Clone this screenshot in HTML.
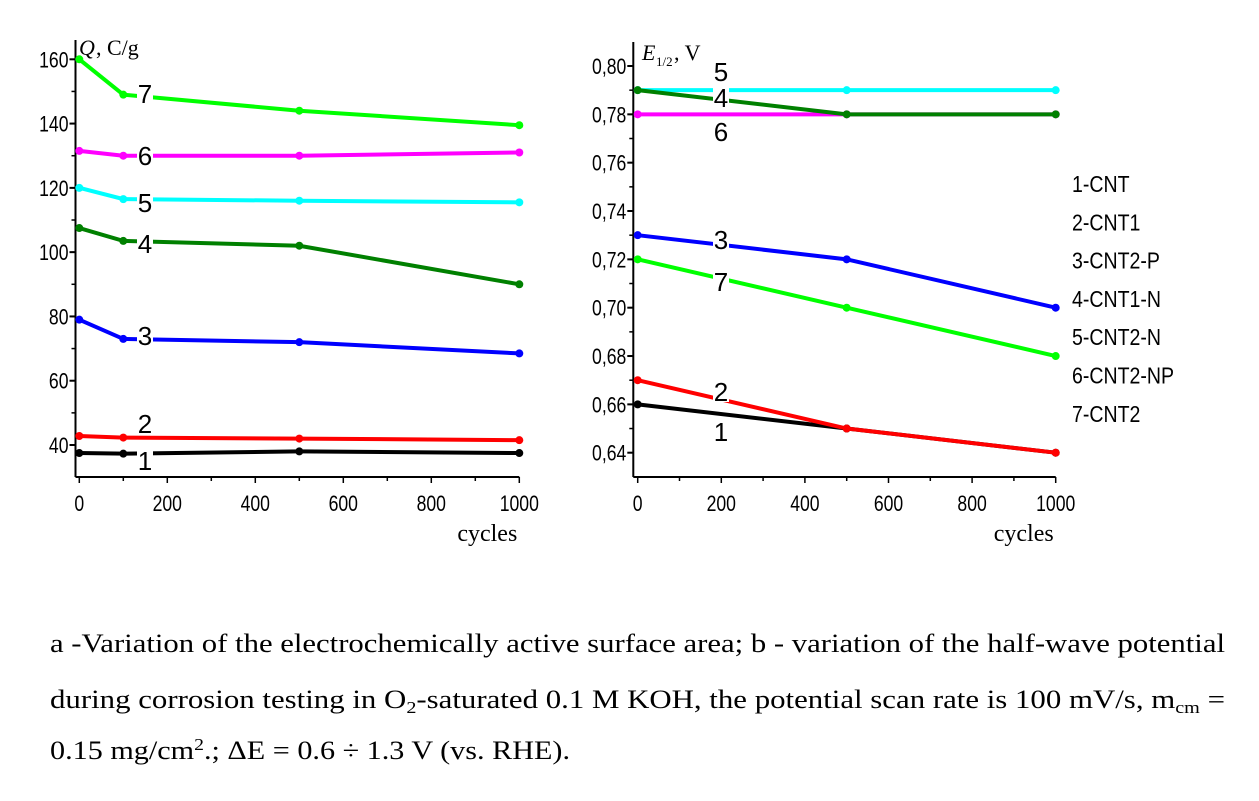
<!DOCTYPE html>
<html><head><meta charset="utf-8"><style>
body{margin:0;background:#fff;width:1259px;height:801px;overflow:hidden;position:relative;font-family:"Liberation Sans",sans-serif}
</style></head><body>
<svg id="chart" width="1259" height="801" style="position:absolute;left:0;top:0">
<text x="50" y="652" font-family="Liberation Serif, serif" font-size="26" textLength="1175" lengthAdjust="spacingAndGlyphs">a -Variation of the electrochemically active surface area; b - variation of the half-wave potential</text>
<text x="50" y="708" font-family="Liberation Serif, serif" font-size="26" textLength="1175" lengthAdjust="spacingAndGlyphs">during corrosion testing in O<tspan font-size="17" dy="5">2</tspan><tspan dy="-5">-saturated 0.1 M KOH, the potential scan rate is 100 mV/s, m</tspan><tspan font-size="17" dy="5">cm</tspan><tspan dy="-5"> =</tspan></text>
<text x="50" y="759" font-family="Liberation Serif, serif" font-size="26" textLength="520" lengthAdjust="spacingAndGlyphs">0.15 mg/cm<tspan font-size="17" dy="-9">2</tspan><tspan dy="9">.; ΔE = 0.6 ÷ 1.3 V (vs. RHE).</tspan></text>
</svg>
<script>
const colors=['#000000','#ff0000','#0000ff','#008000','#00ffff','#ff00ff','#00ff00'];
const leftX=[0,100,500,1000];
const leftS1=[37.5,37.3,38,37.5];
const leftS2=[42.8,42.3,42,41.5];
const leftS3=[79,73,72,68.5];
const leftS4=[107.5,103.5,102,90];
const leftS5=[120,116.5,116,115.5];
const leftS6=[131.5,130,130,131];
const leftS7=[160,149,144,139.5];
const leftYTicks=[40,60,80,100,120,140,160];
const rightX=[0,500,1000];
const rightS1=[0.66,0.65,0.64];
const rightS2=[0.67,0.65,0.64];
const rightS3=[0.73,0.72,0.70];
const rightS4=[0.79,0.78,0.78];
const rightS5=[0.79,0.79,0.79];
const rightS6=[0.78,0.78,0.78];
const rightS7=[0.72,0.70,0.68];
const rightYTicks=[0.64,0.66,0.68,0.70,0.72,0.74,0.76,0.78,0.80];
const xTicks=[0,200,400,600,800,1000];
const legendNames=['1-CNT','2-CNT1','3-CNT2-P','4-CNT1-N','5-CNT2-N','6-CNT2-NP','7-CNT2'];
const NS='http://www.w3.org/2000/svg';
const svg=document.getElementById('chart');
function mk(tag,attrs,parent,name){const e=document.createElementNS(NS,tag);for(const k in attrs)e.setAttribute(k,attrs[k]);


(parent||svg).appendChild(e);return e;}
function txt(x,y,s,size,name,anchor,fam){const t=mk('text',{x:x,y:y,'font-size':size,'text-anchor':anchor||'middle','font-family':fam||'Liberation Sans, sans-serif'},svg,name);t.textContent=s;return t;}
function chart(cfg){
 const sx=v=>cfg.x0+(v-0)/1000*(cfg.x1-cfg.x0);
 const sy=v=>cfg.y0+(v-cfg.v0)/(cfg.v1-cfg.v0)*(cfg.y1-cfg.y0);
 mk('line',{x1:cfg.ax,y1:cfg.top,x2:cfg.ax,y2:cfg.bot,stroke:'#000','stroke-width':2},svg,cfg.p+'-y-axis');
 mk('line',{x1:cfg.ax,y1:cfg.bot,x2:cfg.x1,y2:cfg.bot,stroke:'#000','stroke-width':2},svg,cfg.p+'-x-axis');
 for(let v=100;v<=1000;v+=100){const maj=v%200==0;mk('line',{x1:sx(v),y1:cfg.bot,x2:sx(v),y2:cfg.bot+(maj?6:4),stroke:'#000','stroke-width':1.5},svg,cfg.p+'-x-tick');}
 mk('line',{x1:sx(0),y1:cfg.bot,x2:sx(0),y2:cfg.bot+6,stroke:'#000','stroke-width':1.5},svg,cfg.p+'-x-tick');
 xTicks.forEach(v=>{const t=txt(sx(v),cfg.bot+34,String(v),22,cfg.p+'-x-tick-label','middle');t.setAttribute('transform','translate('+sx(v)+',0) scale(0.8,1) translate('+(-sx(v))+',0)');});
 for(let v=cfg.mstart;v<=cfg.mend+1e-9;v+=cfg.minor){mk('line',{x1:cfg.ax-4,y1:sy(v),x2:cfg.ax,y2:sy(v),stroke:'#000','stroke-width':1.5},svg,cfg.p+'-y-minor-tick');}
 cfg.ticks.forEach(v=>{mk('line',{x1:cfg.ax-6,y1:sy(v),x2:cfg.ax,y2:sy(v),stroke:'#000','stroke-width':2},svg,cfg.p+'-y-tick');
  const t=txt(cfg.ax-7,sy(v)+8,cfg.fmt(v),22,cfg.p+'-y-tick-label','end');t.setAttribute('transform','translate('+(cfg.ax-7)+',0) scale(0.8,1) translate('+(-(cfg.ax-7))+',0)');});
 txt(cfg.x1-2,cfg.bot+64,'cycles',24,cfg.p+'-x-axis-title','end','Liberation Serif, serif');
 cfg.order.forEach(i=>{const ys=cfg.series[i];const xs=cfg.xs;
  let pts=xs.map((x,j)=>sx(x)+','+sy(ys[j])).join(' ');
  mk('polyline',{points:pts,fill:'none',stroke:colors[i],'stroke-width':4},svg,cfg.p+'-line-series-'+(i+1));
  xs.forEach((x,j)=>mk('circle',{cx:sx(x),cy:sy(ys[j]),r:4,fill:colors[i]},svg,cfg.p+'-marker-series-'+(i+1)));});
 cfg.labels.forEach(l=>{const t=txt(l[1],l[2],l[0],26,cfg.p+'-series-label-'+l[0]);
   const r=mk('rect',{x:l[1]-8,y:l[2]-20,width:16,height:21,fill:'#fff'},svg,cfg.p+'-label-bg');svg.insertBefore(r,t);});
}
chart({p:'left',ax:75.5,top:40,bot:477,x0:79.3,x1:519.3,v0:40,v1:160,y0:445,y1:59.3,minor:10,mstart:40,mend:160,ticks:leftYTicks,fmt:v=>String(v),
 xs:leftX,series:[leftS1,leftS2,leftS3,leftS4,leftS5,leftS6,leftS7],order:[0,1,2,3,4,5,6],
 labels:[['7',145,103],['6',145,165],['5',145,212],['4',145,253],['3',145,345],['2',145,433],['1',145,470]]});
chart({p:'right',ax:633.3,top:42,bot:477,x0:637.7,x1:1055.7,v0:0.64,v1:0.80,y0:452.7,y1:66,minor:0.01,mstart:0.64,mend:0.80,ticks:rightYTicks,fmt:v=>v.toFixed(2).replace('.',','),
 xs:rightX,series:[rightS1,rightS2,rightS3,rightS4,rightS5,rightS6,rightS7],order:[0,1,2,5,4,3,6],
 labels:[['5',721,81],['4',721,107],['6',721,141],['3',721,249],['7',721,291],['2',721,401],['1',721,441]]});
const q=txt(79,55,'Q',22,'left-y-axis-title','start','Liberation Serif, serif');q.setAttribute('font-style','italic');
txt(96,55,', C/g',22,'left-y-axis-title-unit','start','Liberation Serif, serif');
const e=txt(642,60,'E',22,'right-y-axis-title','start','Liberation Serif, serif');e.setAttribute('font-style','italic');
txt(656,66,'1/2',13,'right-y-axis-title-sub','start','Liberation Serif, serif');
txt(674,60,', V',22,'right-y-axis-title-unit','start','Liberation Serif, serif');
legendNames.forEach((n,i)=>{const t=mk('text',{x:1072,y:192+i*38.3,'font-size':23,'font-family':'Liberation Sans, sans-serif',transform:'translate(1072,0) scale(0.85,1) translate(-1072,0)'},svg,'legend-entry-'+(i+1));t.textContent=n;});
</script>
</body></html>
